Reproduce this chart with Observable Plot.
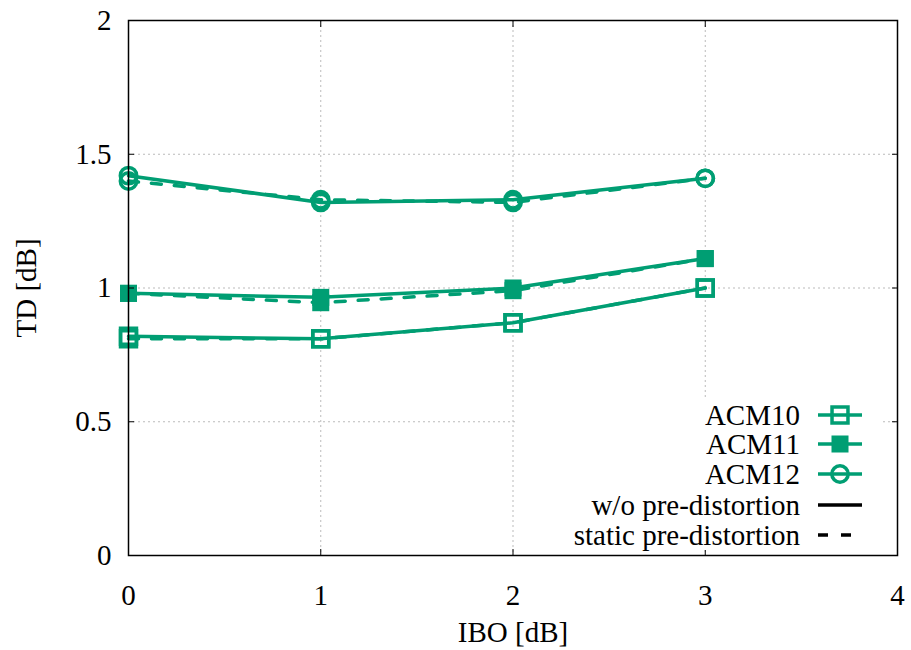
<!DOCTYPE html>
<html>
<head>
<meta charset="utf-8">
<script src="https://cdn.jsdelivr.net/npm/d3@7"></script>
<script src="https://cdn.jsdelivr.net/npm/@observablehq/plot@0.6"></script>
<style>
  body { margin: 0; background: #fff; }
  #wrap { position: relative; width: 911px; height: 650px; font-family: "Liberation Serif", "Times New Roman", serif; }
  #legend { position: absolute; left: 515px; top: 398px; width: 368px; height: 152px; background: #fff; }
  .row { position: absolute; left: 0; width: 368px; height: 30px; }
  .row span { position: absolute; right: 83px; top: 0; font-size: 29px; line-height: 30px; white-space: nowrap; color: #000; }
  .row svg { position: absolute; left: 303px; top: 0; overflow: visible; }
</style>
</head>
<body>
<div id="wrap"></div>
<script>
// ---- data ----
const ibo = [0, 1, 2, 3];
const acm10_wo     = [0.82, 0.81, 0.87, 1.00];
const acm10_static = [0.81, 0.81, 0.87, 1.00];
const acm11_wo     = [0.98, 0.965, 1.00, 1.11];
const acm11_static = [0.98, 0.945, 0.99, 1.11];
const acm12_wo     = [1.42, 1.32, 1.33, 1.41];
const acm12_static = [1.40, 1.33, 1.32, 1.41];

const xTicks = [0, 1, 2, 3, 4];
const yTicks = [0, 0.5, 1, 1.5, 2];
const xLabel = "IBO [dB]";
const yLabel = "TD [dB]";
const legendSeries = ["ACM10", "ACM11", "ACM12"];
const legendStyles = ["w/o pre-distortion", "static pre-distortion"];

const green = "#009e73";
const dash = "10,13";

const series = [
  {acm: "ACM10", kind: "wo", values: acm10_wo},
  {acm: "ACM11", kind: "wo", values: acm11_wo},
  {acm: "ACM12", kind: "wo", values: acm12_wo},
  {acm: "ACM10", kind: "static", values: acm10_static},
  {acm: "ACM11", kind: "static", values: acm11_static},
  {acm: "ACM12", kind: "static", values: acm12_static}
];
const rows = series.flatMap(s => ibo.map((x, i) => ({x, y: s.values[i], acm: s.acm, kind: s.kind})));

const markerStyle = {
  ACM10: {symbol: "square", r: 9, fill: "none", stroke: green, strokeWidth: 3.5},
  ACM11: {symbol: "square", r: 9.6, fill: green, stroke: "none", strokeWidth: 0},
  ACM12: {symbol: "circle", r: 8.2, fill: "none", stroke: green, strokeWidth: 3.5}
};

const marks = [
  Plot.gridX(xTicks.slice(1, -1), {stroke: "#bbb", strokeOpacity: 1, strokeWidth: 1, strokeDasharray: "2,3"}),
  Plot.gridY(yTicks.slice(1, -1), {stroke: "#bbb", strokeOpacity: 1, strokeWidth: 1, strokeDasharray: "2,3"})
];
for (const s of series) {
  const d = rows.filter(r => r.acm === s.acm && r.kind === s.kind);
  marks.push(Plot.line(d, {x: "x", y: "y", stroke: green, strokeWidth: 3.5,
    strokeDasharray: s.kind === "static" ? dash : null}));
  marks.push(Plot.dot(d, {x: "x", y: "y", ...markerStyle[s.acm]}));
}
marks.push(
  Plot.axisX(xTicks, {anchor: "bottom", tickSize: -6, tickPadding: 35, tickFormat: d => String(d),
    label: xLabel, labelAnchor: "center", labelOffset: 86, labelArrow: "none"}),
  Plot.axisX(xTicks, {anchor: "top", tickSize: -6, tickFormat: () => "", label: null}),
  Plot.axisY(yTicks, {anchor: "left", tickSize: -6, tickPadding: 23, tickFormat: d => String(d),
    label: yLabel, labelAnchor: "center", labelOffset: 113, labelArrow: "none"}),
  Plot.axisY(yTicks, {anchor: "right", tickSize: -6, tickFormat: () => "", label: null}),
  Plot.frame({stroke: "#000", strokeWidth: 1.5})
);

const chart = Plot.plot({
  width: 911,
  height: 650,
  marginLeft: 128,
  marginRight: 14,
  marginTop: 20,
  marginBottom: 95,
  x: {domain: [0, 4]},
  y: {domain: [0, 2]},
  style: {fontFamily: "'Liberation Serif', 'Times New Roman', serif", fontSize: "29px", background: "#fff", color: "#000", overflow: "visible"},
  marks
});
const wrap = document.getElementById("wrap");
wrap.appendChild(chart);

// ---- legend (opaque key, as in the reference) ----
const legend = document.createElement("div");
legend.id = "legend";
wrap.appendChild(legend);
const legendItems = [
  ...legendSeries.map(a => ({label: a, acm: a, dashed: false, color: green})),
  {label: legendStyles[0], acm: null, dashed: false, color: "#000"},
  {label: legendStyles[1], acm: null, dashed: true, color: "#000"}
];
const rowTops = [2, 31, 61, 92, 122];
legendItems.forEach((item, i) => {
  const row = document.createElement("div");
  row.className = "row";
  row.style.top = rowTops[i] + "px";
  const span = document.createElement("span");
  span.textContent = item.label;
  row.appendChild(span);
  const svg = d3.create("svg").attr("width", 44).attr("height", 30);
  svg.append("line").attr("x1", 0).attr("x2", 44).attr("y1", 15).attr("y2", 15)
    .attr("stroke", item.color).attr("stroke-width", 3.5)
    .attr("stroke-dasharray", item.dashed ? dash : null);
  if (item.acm) {
    const m = markerStyle[item.acm];
    const size = Math.PI * m.r * m.r;
    const sym = m.symbol === "circle" ? d3.symbolCircle : d3.symbolSquare;
    svg.append("path").attr("d", d3.symbol(sym, size)()).attr("transform", "translate(22,15)")
      .attr("fill", m.fill).attr("stroke", m.stroke).attr("stroke-width", m.strokeWidth);
  }
  row.appendChild(svg.node());
  legend.appendChild(row);
});
</script>
</body>
</html>
